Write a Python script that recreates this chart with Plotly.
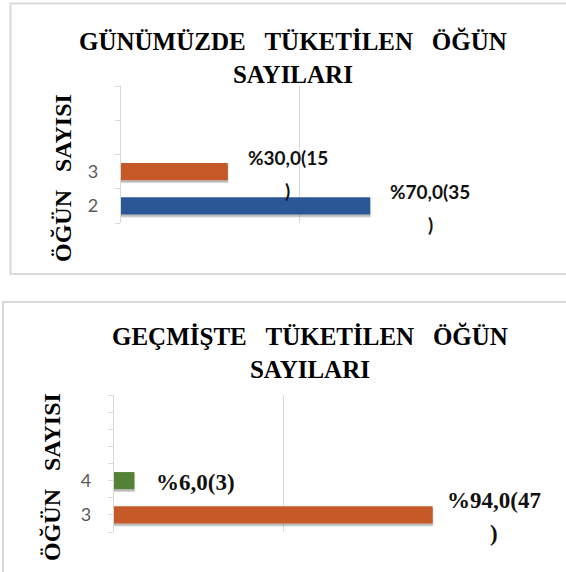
import plotly.graph_objects as go

# ---- data ----
top_title = "GÜNÜMÜZDE\u00a0\u00a0\u00a0TÜKETİLEN\u00a0\u00a0\u00a0ÖĞÜN<br>SAYILARI"
bottom_title = "GEÇMİŞTE\u00a0\u00a0\u00a0TÜKETİLEN\u00a0\u00a0\u00a0ÖĞÜN<br>SAYILARI"
axis_title = "ÖĞÜN\u00a0\u00a0\u00a0SAYISI"

top_categories = ["2", "3"]
top_percent = [70.0, 30.0]
top_counts = [35, 15]
top_colors = ["#2B5797", "#C55A28"]

bottom_categories = ["3", "4"]
bottom_percent = [94.0, 6.0]
bottom_counts = [47, 3]
bottom_colors = ["#C55A28", "#548235"]

n_slots = 4  # category slots shown on the axis
x_gridlines = [0, 50, 100]

W, H = 566, 572
GRID = "#D9D9D9"
SERIF = "Liberation Serif"
SANS = "Lato"


def px(v):
    return v / W


def py(v):
    return 1 - v / H


fig = go.Figure()


def add_chart(cats, pct, cnt, colors, xa, ya, label_font, xshift):
    pos = [i + 1 for i in range(len(cats))]
    # soft drop shadow
    fig.add_trace(go.Bar(
        x=pct, y=pos, orientation="h", width=0.5, offset=-0.31,
        marker=dict(color="rgba(0,0,0,0.22)", line=dict(width=2, color="rgba(0,0,0,0.10)")),
        xaxis=xa, yaxis=ya, hoverinfo="skip", showlegend=False,
    ))
    fig.add_trace(go.Bar(
        x=pct, y=pos, orientation="h", width=0.5,
        marker=dict(color=colors, line=dict(width=0)),
        xaxis=xa, yaxis=ya, showlegend=False,
    ))
    for p, v, n in zip(pos, pct, cnt):
        head = ("%" + f"{v:.1f}").replace(".", ",") + f"({n}"
        if n >= 10:
            fig.add_annotation(x=v, y=p, xref=xa, yref=ya, text=head,
                               showarrow=False, xanchor="center", yanchor="middle",
                               xshift=xshift, yshift=14, font=label_font)
            fig.add_annotation(x=v, y=p, xref=xa, yref=ya, text=")", showarrow=False,
                               xanchor="center", yanchor="middle", xshift=xshift, yshift=-19,
                               font=label_font)
        else:
            fig.add_annotation(x=v, y=p, xref=xa, yref=ya, text=head + ")",
                               showarrow=False, xanchor="center", yanchor="middle",
                               xshift=xshift, yshift=-2, font=label_font)
    return pos


top_pos = add_chart(top_categories, top_percent, top_counts, top_colors, "x", "y",
                    dict(family=SANS, size=19, color="#111111", weight="bold"), 60)
bot_pos = add_chart(bottom_categories, bottom_percent, bottom_counts, bottom_colors, "x2", "y2",
                    dict(family=SERIF, size=23, color="#111111", weight="bold"), 61)

xcommon = dict(range=[0, 100], tickmode="array", tickvals=x_gridlines, showgrid=True,
               gridcolor=GRID, gridwidth=1.3, showticklabels=False, zeroline=False,
               showline=False, ticks="", fixedrange=True, automargin=False)
ycommon = dict(range=[0.5, n_slots + 0.5], tickmode="array", showgrid=False, zeroline=False,
               showline=True, linecolor=GRID, linewidth=1.3, ticks="",
               tickfont=dict(family=SANS, size=18, color="#595959"),
               ticklabelstandoff=18, fixedrange=True, automargin=False)

fig.update_layout(
    width=W, height=H, margin=dict(l=0, r=0, t=0, b=0, autoexpand=False),
    paper_bgcolor="white", plot_bgcolor="white", barmode="overlay",
    xaxis=dict(xcommon, domain=[px(121), px(477)], anchor="y"),
    yaxis=dict(ycommon, domain=[py(223), py(86)], anchor="x",
               tickvals=top_pos, ticktext=top_categories,
               minor=dict(tickmode="linear", tick0=0.5, dtick=1, ticks="outside",
                          ticklen=5, tickcolor=GRID, tickwidth=1.3, showgrid=False)),
    xaxis2=dict(xcommon, domain=[px(114), px(453)], anchor="y2"),
    yaxis2=dict(ycommon, domain=[py(532), py(395)], anchor="x2",
                tickvals=bot_pos, ticktext=bottom_categories,
                minor=dict(tickmode="linear", tick0=0.5, dtick=0.5, ticks="outside",
                           ticklen=5, tickcolor=GRID, tickwidth=1.3, showgrid=False)),
    showlegend=False,
)

title_font = dict(family=SERIF, size=25, color="#000000", weight="bold")
axis_font = dict(family=SERIF, size=24, color="#000000", weight="bold")
fig.add_annotation(x=px(293), y=py(58), xref="paper", yref="paper", text=top_title,
                   showarrow=False, xanchor="center", yanchor="middle", font=title_font)
fig.add_annotation(x=px(310), y=py(353), xref="paper", yref="paper", text=bottom_title,
                   showarrow=False, xanchor="center", yanchor="middle", font=title_font)
fig.add_annotation(x=px(63), y=py(178), xref="paper", yref="paper", text=axis_title,
                   showarrow=False, textangle=-90, xanchor="center", yanchor="middle", font=axis_font)
fig.add_annotation(x=px(52), y=py(477), xref="paper", yref="paper", text=axis_title,
                   showarrow=False, textangle=-90, xanchor="center", yanchor="middle", font=axis_font)

fig.add_shape(type="rect", xref="paper", yref="paper", x0=px(10.5), x1=1.05,
              y0=py(274), y1=py(3.5), line=dict(color=GRID, width=2), layer="below")
fig.add_shape(type="rect", xref="paper", yref="paper", x0=px(3), x1=1.05,
              y0=-0.05, y1=py(302), line=dict(color=GRID, width=2), layer="below")

fig.write_html("out.html", config={"displayModeBar": False},
               post_script="document.body.style.margin='0';")
